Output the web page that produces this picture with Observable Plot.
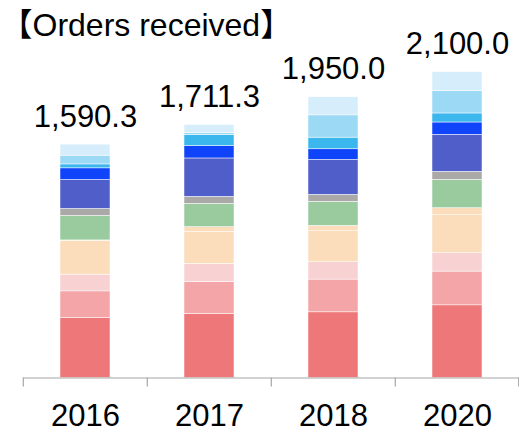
<!DOCTYPE html>
<html>
<head>
<meta charset="utf-8">
<script src="https://cdn.jsdelivr.net/npm/d3@7"></script>
<script src="https://cdn.jsdelivr.net/npm/@observablehq/plot@0.6"></script>
<style>
  html, body { margin: 0; padding: 0; background: #fff; }
  #chart { position: relative; width: 519px; height: 432px; overflow: hidden; }
  svg { font-family: "Liberation Sans", Arial, "Noto Sans CJK JP", sans-serif; }
</style>
</head>
<body>
<div id="chart"></div>
<script>
const title = "【Orders received】";
const years = ["2016", "2017", "2018", "2020"];
const totalLabels = ["1,590.3", "1,711.3", "1,950.0", "2,100.0"];

// Stacked segments, bottom to top
const seriesNames = ["S1", "S2", "S3", "S4", "S5", "S6", "S7", "S8", "S9", "S10", "S11", "S12"];
const s1  = [412, 440, 451, 499];
const s2  = [183, 220, 225, 232];
const s3  = [115, 124, 119, 126];
const s4  = [232, 218, 213, 261];
const s5  = [3, 34, 37, 48];
const s6  = [168, 160, 165, 195];
const s7  = [48, 48, 48, 55];
const s8  = [199, 264, 240, 254];
const s9  = [80, 85, 73, 85];
const s10 = [27, 76, 80, 62];
const s11 = [60, 14, 153, 153];
const s12 = [76, 55, 124, 131];
const seriesColors = ["#EE777A", "#F3A5A7", "#F8D1D3", "#FBDDBB", "#FBDDBB", "#9ACB9F",
                      "#ABA8A8", "#4F5EC9", "#0F44FA", "#3BB7EE", "#9CD9F5", "#D6EEFB"];

const seriesValues = [s1, s2, s3, s4, s5, s6, s7, s8, s9, s10, s11, s12];
const rows = [];
seriesNames.forEach((name, si) => {
  years.forEach((yr, yi) => rows.push({year: yr, series: name, value: seriesValues[si][yi]}));
});
const totals = years.map((yr, yi) => ({
  year: yr,
  total: d3.sum(seriesValues, s => s[yi]),
  label: totalLabels[yi]
}));

const plot = Plot.plot({
  width: 519,
  height: 432,
  marginLeft: 23,
  marginRight: 0,
  marginTop: 0,
  marginBottom: 54.5,
  style: {fontFamily: '"Liberation Sans", Arial, "Noto Sans CJK JP", sans-serif', background: "white"},
  x: {domain: years, paddingInner: 0.6, paddingOuter: 0.3, label: null},
  y: {domain: [0, 2593], axis: null},
  color: {domain: seriesNames, range: seriesColors},
  marks: [
    Plot.barY(rows, {x: "year", y: "value", fill: "series", order: seriesNames, stroke: "white", strokeWidth: 0.5}),
    Plot.ruleY([0], {stroke: "#A6A6A6", strokeWidth: 1.2}),
    Plot.axisX({tickSize: 0, tickPadding: 26, fontSize: 31, fill: "#000", label: null}),
    Plot.text(totals, {x: "year", y: "total", text: "label", lineAnchor: "bottom", dy: -18, fontSize: 31, fill: "#000"}),
    Plot.text([title], {frameAnchor: "top-left", text: d => d, textAnchor: "start", lineAnchor: "bottom", dx: -23, dy: 35, fontSize: 32, fill: "#000"})
  ]
});

// boundary ticks between categories, from the plot's own x scale
const xs = plot.scale("x");
const ys = plot.scale("y");
const base = ys.apply(0);
const outer = xs.step * 0.3;
const bounds = years.map(y => xs.apply(y) - outer);
bounds.push(xs.apply(years[years.length - 1]) + xs.bandwidth + outer - 1);
d3.select(plot).append("g")
  .selectAll("line").data(bounds).join("line")
  .attr("x1", d => d + 0.5).attr("x2", d => d + 0.5)
  .attr("y1", base).attr("y2", base + 9)
  .attr("stroke", "#A6A6A6").attr("stroke-width", 1.2);

document.getElementById("chart").appendChild(plot);
</script>
</body>
</html>
